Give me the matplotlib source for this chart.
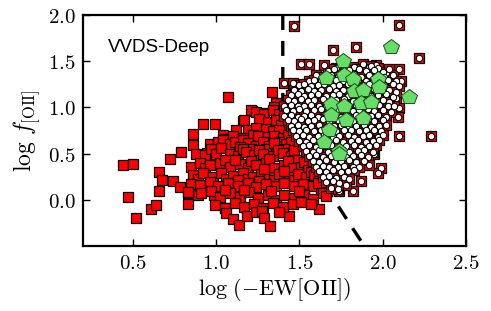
import matplotlib
matplotlib.use("Agg")
import matplotlib.pyplot as plt
from matplotlib.ticker import FixedLocator, FuncFormatter

plt.rcParams['mathtext.fontset'] = 'cm'

# ---- data ----
red_pts = [
    # sparse left / edge points
    (0.442, 0.378), (0.502, 0.386), (0.472, 0.025), (0.516, -0.198), (0.608, -0.10),
    (0.636, -0.054), (0.656, 0.30), (0.672, 0.216), (0.656, 0.097), (0.722, 0.44),
    (0.786, 0.52), (0.742, 0.205), (0.782, 0.137), (0.832, -0.047), (0.858, 0.71),
    (0.862, 0.595), (0.922, 0.818), (0.992, 0.818), (1.038, 0.70), (1.068, 1.117),
    (0.832, 0.072), (0.892, 0.054), (0.908, 0.44), (0.946, 0.51), (0.982, 0.15),
    (0.986, 0.054), (1.052, -0.087), (1.162, 0.847), (1.218, 0.962), (1.282, 0.937),
    (1.338, 1.171), (1.358, 1.05), (1.35, 1.0), (1.376, 0.94), (1.44, -0.18), (1.62, -0.10),
    # upper part
    (1.21, 0.97), (1.24, 0.95), (1.29, 0.93), (1.34, 0.97), (1.38, 0.93),
    (1.17, 0.86), (1.26, 0.87), (1.31, 0.84), (1.36, 0.86), (1.39, 0.81),
    (1.12, 0.75), (1.19, 0.76), (1.24, 0.78), (1.30, 0.77), (1.34, 0.74), (1.38, 0.75),
    (1.05, 0.66), (1.10, 0.69), (1.16, 0.67), (1.22, 0.70), (1.25, 0.69), (1.31, 0.68),
    (1.35, 0.685), (1.40, 0.67), (1.43, 0.70),
    (0.96, 0.60), (1.01, 0.62), (1.04, 0.65), (1.08, 0.605), (1.11, 0.63), (1.16, 0.65),
    (1.19, 0.61), (1.24, 0.58), (1.28, 0.63), (1.32, 0.58), (1.38, 0.63), (1.42, 0.60), (1.45, 0.62),
    (1.14, 0.57), (1.21, 0.55), (1.30, 0.55), (1.35, 0.61), (1.41, 0.55),
    # middle
    (0.88, 0.50), (0.93, 0.48), (0.97, 0.55), (1.00, 0.50), (1.03, 0.56), (1.08, 0.50),
    (1.13, 0.47), (1.16, 0.55), (1.18, 0.52), (1.23, 0.48), (1.26, 0.54), (1.28, 0.50),
    (1.34, 0.47), (1.37, 0.54), (1.40, 0.51), (1.45, 0.47), (1.47, 0.54), (1.49, 0.43),
    (0.85, 0.36), (0.90, 0.40), (0.93, 0.34), (0.96, 0.38), (1.02, 0.40), (1.05, 0.43),
    (1.08, 0.36), (1.14, 0.39), (1.11, 0.43), (1.19, 0.34), (1.21, 0.42), (1.24, 0.38),
    (1.30, 0.40), (1.32, 0.44), (1.35, 0.34), (1.41, 0.38), (1.43, 0.42), (1.46, 0.34),
    (1.51, 0.36), (1.53, 0.41), (1.55, 0.32),
    (0.86, 0.27), (0.89, 0.22), (0.92, 0.29), (0.98, 0.25), (1.03, 0.29), (1.06, 0.22),
    (1.10, 0.26), (1.16, 0.29), (1.19, 0.22), (1.22, 0.25), (1.27, 0.28), (1.32, 0.25),
    (1.35, 0.21), (1.38, 0.28), (1.44, 0.25), (1.47, 0.21), (1.49, 0.28), (1.54, 0.245),
    (1.57, 0.30), (1.59, 0.27), (1.62, 0.22),
    (1.13, 0.21), (1.26, 0.20), (1.41, 0.31), (1.29, 0.33),
    # lower part
    (0.85, 0.17), (0.90, 0.16), (0.96, 0.19), (1.01, 0.145), (1.07, 0.18), (1.13, 0.145),
    (1.19, 0.18), (1.24, 0.14), (1.30, 0.17), (1.36, 0.145), (1.41, 0.18), (1.47, 0.145),
    (1.52, 0.17), (1.58, 0.145), (1.63, 0.11), (1.61, 0.18),
    (0.83, 0.08), (0.91, 0.07), (0.97, 0.09), (1.02, 0.035), (1.08, 0.07), (1.14, 0.035),
    (1.20, 0.08), (1.25, 0.02), (1.31, 0.055), (1.36, 0.0), (1.41, 0.055), (1.47, 0.02),
    (1.53, 0.055), (1.58, 0.007), (1.64, 0.07), (1.66, 0.04),
    (1.05, 0.11), (1.17, 0.11), (1.33, 0.10), (1.50, 0.10),
    (0.99, -0.055), (1.05, -0.09), (1.11, -0.036), (1.17, -0.08), (1.23, -0.043),
    (1.28, -0.09), (1.34, -0.036), (1.40, -0.08), (1.46, -0.043), (1.51, -0.02),
    (1.57, -0.043),
    (1.06, -0.144), (1.10, -0.21), (1.138, -0.27), (1.186, -0.18), (1.24, -0.137),
    (1.278, -0.126), (1.29, -0.2), (1.322, -0.28), (1.38, -0.137),
]

white_pts = [
    # outliers
    (1.47, 1.88), (2.10, 1.89), (1.84, 1.65), (1.70, 1.62), (2.22, 1.53), (1.51, 1.47),
    (1.56, 1.47), (1.65, 1.46), (2.10, 1.41), (2.11, 1.28), (1.41, 1.26), (1.46, 1.26),
    (1.46, 1.19), (2.08, 1.10), (2.10, 0.99), (2.09, 0.90), (2.10, 0.69), (2.29, 0.685),
    (1.95, 0.49), (1.99, 0.34), (1.97, 0.29), (1.87, 0.205), (1.82, 0.10), (1.736, 0.10),
    (2.02, 1.37), (1.96, 1.46), (1.92, 1.44),
    # dense core
    (1.72, 1.43), (1.77, 1.46), (1.83, 1.44), (1.88, 1.47), (1.93, 1.45), (1.97, 1.43),
    (1.67, 1.39), (1.71, 1.41), (1.75, 1.38), (1.80, 1.40), (1.86, 1.41), (1.90, 1.39),
    (1.95, 1.40), (2.00, 1.38), (2.04, 1.41),
    (1.60, 1.35), (1.64, 1.33), (1.69, 1.35), (1.73, 1.33), (1.78, 1.34), (1.83, 1.36),
    (1.87, 1.33), (1.92, 1.35), (1.97, 1.34), (2.01, 1.33), (2.06, 1.35),
    (1.56, 1.29), (1.59, 1.30), (1.63, 1.28), (1.67, 1.29), (1.72, 1.30), (1.76, 1.28),
    (1.81, 1.29), (1.85, 1.30), (1.90, 1.28), (1.94, 1.29), (1.99, 1.28), (2.03, 1.30),
    (2.08, 1.28),
    (1.50, 1.24), (1.53, 1.25), (1.57, 1.23), (1.61, 1.24), (1.65, 1.25), (1.70, 1.23),
    (1.74, 1.24), (1.79, 1.25), (1.83, 1.23), (1.88, 1.24), (1.92, 1.25), (1.97, 1.23),
    (2.01, 1.24), (2.06, 1.25), (2.10, 1.23),
    (1.47, 1.19), (1.51, 1.18), (1.55, 1.20), (1.59, 1.18), (1.63, 1.19), (1.68, 1.20),
    (1.72, 1.18), (1.76, 1.19), (1.81, 1.20), (1.86, 1.18), (1.90, 1.19), (1.95, 1.20),
    (1.99, 1.18), (2.04, 1.19), (2.08, 1.17),
    (1.45, 1.13), (1.49, 1.14), (1.53, 1.12), (1.57, 1.13), (1.61, 1.14), (1.66, 1.12),
    (1.70, 1.13), (1.74, 1.14), (1.79, 1.12), (1.84, 1.13), (1.88, 1.14), (1.93, 1.12),
    (1.97, 1.13), (2.02, 1.14), (2.06, 1.11),
    (1.43, 1.08), (1.47, 1.07), (1.51, 1.09), (1.55, 1.07), (1.59, 1.08), (1.64, 1.09),
    (1.68, 1.07), (1.72, 1.08), (1.77, 1.09), (1.82, 1.07), (1.86, 1.08), (1.91, 1.09),
    (1.95, 1.07), (2.00, 1.08), (2.04, 1.06),
    (1.41, 1.02), (1.45, 1.03), (1.49, 1.01), (1.53, 1.02), (1.57, 1.03), (1.62, 1.01),
    (1.66, 1.02), (1.70, 1.03), (1.75, 1.01), (1.80, 1.02), (1.84, 1.03), (1.89, 1.01),
    (1.93, 1.02), (1.98, 1.03), (2.03, 1.01), (2.07, 1.02),
    (1.42, 0.97), (1.46, 0.96), (1.50, 0.98), (1.54, 0.96), (1.59, 0.97), (1.63, 0.98),
    (1.68, 0.96), (1.72, 0.97), (1.77, 0.98), (1.82, 0.96), (1.86, 0.97), (1.91, 0.98),
    (1.95, 0.96), (2.00, 0.97), (2.05, 0.95),
    (1.41, 0.91), (1.45, 0.92), (1.49, 0.90), (1.53, 0.91), (1.57, 0.92), (1.61, 0.90),
    (1.66, 0.91), (1.70, 0.92), (1.75, 0.90), (1.79, 0.91), (1.84, 0.92), (1.88, 0.90),
    (1.93, 0.91), (1.97, 0.92), (2.02, 0.90),
    (1.43, 0.86), (1.47, 0.85), (1.51, 0.87), (1.55, 0.85), (1.59, 0.86), (1.64, 0.87),
    (1.68, 0.85), (1.73, 0.86), (1.77, 0.87), (1.82, 0.85), (1.86, 0.86), (1.91, 0.87),
    (1.95, 0.85), (2.00, 0.86),
    (1.45, 0.80), (1.49, 0.81), (1.53, 0.79), (1.57, 0.80), (1.62, 0.81), (1.66, 0.79),
    (1.71, 0.80), (1.75, 0.81), (1.80, 0.79), (1.84, 0.80), (1.89, 0.81), (1.93, 0.79),
    (1.98, 0.80), (2.02, 0.81),
    (1.46, 0.75), (1.50, 0.74), (1.54, 0.76), (1.59, 0.74), (1.63, 0.75), (1.67, 0.76),
    (1.72, 0.74), (1.77, 0.75), (1.81, 0.76), (1.86, 0.74), (1.90, 0.75), (1.95, 0.76),
    (1.99, 0.74),
    (1.48, 0.69), (1.52, 0.70), (1.56, 0.68), (1.61, 0.69), (1.65, 0.70), (1.70, 0.68),
    (1.74, 0.69), (1.79, 0.70), (1.83, 0.68), (1.88, 0.69), (1.92, 0.70), (1.97, 0.68),
    (2.00, 0.70),
    (1.50, 0.64), (1.54, 0.63), (1.58, 0.65), (1.63, 0.63), (1.67, 0.64), (1.72, 0.65),
    (1.76, 0.63), (1.81, 0.64), (1.85, 0.65), (1.90, 0.63), (1.94, 0.64), (1.98, 0.65),
    (1.52, 0.58), (1.56, 0.59), (1.60, 0.57), (1.65, 0.58), (1.69, 0.59), (1.74, 0.57),
    (1.78, 0.58), (1.83, 0.59), (1.87, 0.57), (1.92, 0.58), (1.96, 0.59),
    (1.54, 0.53), (1.58, 0.52), (1.62, 0.54), (1.67, 0.52), (1.71, 0.53), (1.76, 0.54),
    (1.80, 0.52), (1.85, 0.53), (1.89, 0.54), (1.94, 0.52),
    (1.56, 0.47), (1.60, 0.48), (1.64, 0.46), (1.69, 0.47), (1.73, 0.48), (1.78, 0.46),
    (1.82, 0.47), (1.87, 0.48), (1.91, 0.46),
    (1.58, 0.42), (1.62, 0.41), (1.66, 0.43), (1.71, 0.41), (1.75, 0.42), (1.80, 0.43),
    (1.84, 0.41), (1.89, 0.42), (1.92, 0.38),
    (1.60, 0.36), (1.64, 0.37), (1.68, 0.35), (1.73, 0.36), (1.77, 0.37), (1.82, 0.35),
    (1.86, 0.36),
    (1.62, 0.31), (1.66, 0.30), (1.70, 0.32), (1.75, 0.30), (1.79, 0.31), (1.83, 0.32),
    (1.64, 0.25), (1.68, 0.26), (1.72, 0.24), (1.77, 0.25), (1.80, 0.22),
    (1.66, 0.19), (1.70, 0.20), (1.74, 0.18), (1.78, 0.16),
    (1.69, 0.13), (1.73, 0.12),
]

green_x = [2.05, 1.76, 1.66, 1.77, 1.82, 1.97, 1.98, 1.83, 1.88, 2.16, 1.69,
           1.77, 1.87, 1.93, 1.69, 1.78, 1.88, 1.68, 1.65, 1.735, 1.74]
green_y = [1.65, 1.50, 1.32, 1.35, 1.31, 1.31, 1.22, 1.18, 1.19, 1.11, 1.04,
           1.01, 1.045, 1.06, 0.92, 0.865, 0.89, 0.76, 0.62, 0.53, 0.49]

cut_x = [1.40, 1.40, 1.90]
cut_y = [2.00, 0.85, -0.53]

xticks = [0.5, 1.0, 1.5, 2.0, 2.5]
yticks = [0.0, 0.5, 1.0, 1.5, 2.0]

red_x = [p[0] for p in red_pts]
red_y = [p[1] for p in red_pts]
white_x = [p[0] for p in white_pts]
white_y = [p[1] for p in white_pts]

# ---- figure ----
fig = plt.figure(figsize=(4.91, 3.11), dpi=100)
ax = fig.add_axes([0.169, 0.209, 0.780, 0.743])

ax.plot(cut_x, cut_y, color='black', lw=2.4, dashes=(4.5, 3.3), zorder=1)

sq = dict(ls='none', marker='s', ms=6.6, mfc='#ff0000', mec='black', mew=0.9)
ax.plot(red_x, red_y, zorder=2, **sq)
ax.plot(white_x, white_y, zorder=2, **sq)
ax.plot(white_x, white_y, ls='none', marker='o', ms=4.6, mfc='white', mec='black',
        mew=0.8, zorder=3)
ax.plot(green_x, green_y, ls='none', marker='p', ms=11.5, mfc='#66dd66', mec='#1a4d1a',
        mew=0.7, zorder=4)

ax.set_xlim(0.2, 2.5)
ax.set_ylim(-0.5, 2.0)
ax.xaxis.set_major_locator(FixedLocator(xticks))
ax.yaxis.set_major_locator(FixedLocator(yticks))
fmt = FuncFormatter(lambda v, p: r'$%.1f$' % v)
ax.xaxis.set_major_formatter(fmt)
ax.yaxis.set_major_formatter(fmt)
ax.tick_params(direction='in', length=5, width=1.0, labelsize=15,
               top=True, right=True, pad=5)
for s in ax.spines.values():
    s.set_linewidth(1.6)

ax.set_xlabel(r'$\log\,\left(-\mathrm{EW[OII]}\right)$', fontsize=16, labelpad=2)
ax.set_ylabel(r'$\log\,f_{[\mathrm{OII}]}$', fontsize=17, labelpad=4)

ax.text(0.065, 0.84, 'VVDS-Deep', transform=ax.transAxes, fontsize=13.5,
        family=['Liberation Sans', 'DejaVu Sans'], ha='left', va='baseline')

fig.savefig('out.png', dpi=100)
